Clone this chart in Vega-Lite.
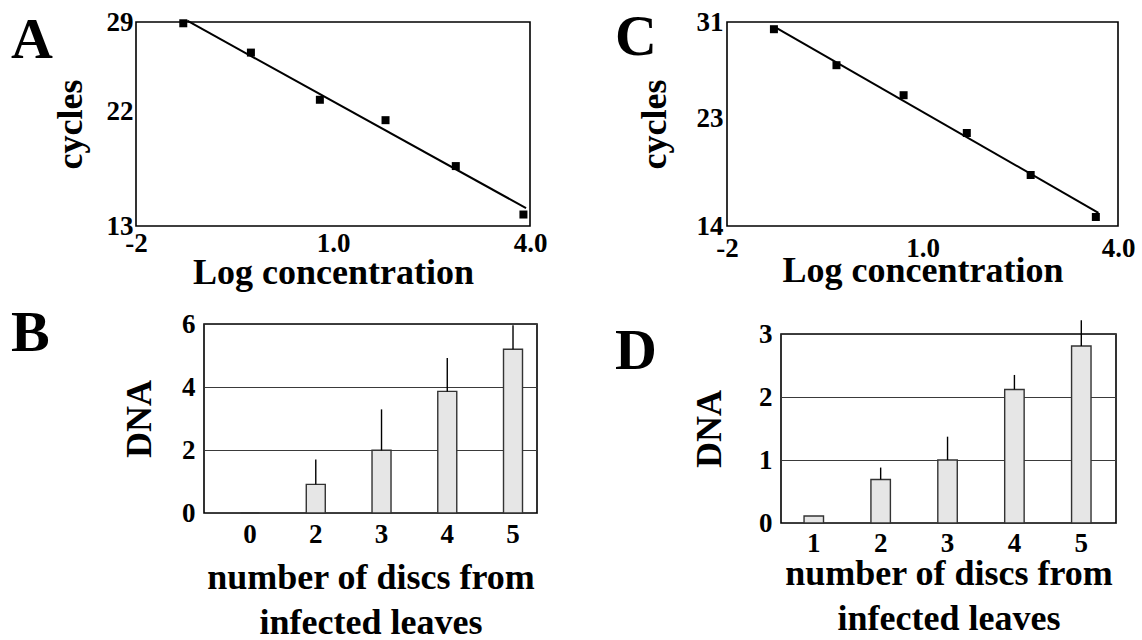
{
  "$schema": "https://vega.github.io/schema/vega-lite/v6.json",
  "background": "white",
  "padding": {"left": 9, "top": 7, "right": 0, "bottom": 0},
  "config": {
    "font": "Liberation Serif",
    "view": {"stroke": "black", "strokeWidth": 1.6},
    "axis": {
      "domain": false, "ticks": false, "tickSize": 0, "grid": false,
      "labelFont": "Liberation Serif", "labelFontWeight": "bold", "labelColor": "black",
      "labelFlush": false, "labelOverlap": false, "labelFontSize": 27,
      "titleFont": "Liberation Serif", "titleFontWeight": "bold", "titleColor": "black", "titleFontSize": 36
    },
    "title": {"font": "Liberation Serif", "fontWeight": "bold", "fontSize": 58, "color": "black", "anchor": "start", "frame": "group", "offset": 0, "baseline": "alphabetic"}
  },
  "datasets": {
    "empty": [],
    "A_pts": [
      {"logc": -1.28, "cycles": 28.9}, {"logc": -0.25, "cycles": 26.6}, {"logc": 0.80, "cycles": 22.9},
      {"logc": 1.80, "cycles": 21.3}, {"logc": 2.87, "cycles": 17.7}, {"logc": 3.90, "cycles": 13.9}
    ],
    "A_line": [{"logc": -1.22, "cycles": 29.1}, {"logc": 3.94, "cycles": 14.4}],
    "C_pts": [
      {"logc": -1.28, "cycles": 30.4}, {"logc": -0.32, "cycles": 27.4}, {"logc": 0.71, "cycles": 24.9},
      {"logc": 1.68, "cycles": 21.75}, {"logc": 2.66, "cycles": 18.25}, {"logc": 3.66, "cycles": 14.75}
    ],
    "C_line": [{"logc": -1.27, "cycles": 30.6}, {"logc": 3.70, "cycles": 15.1}],
    "B_bars": [
      {"discs": "0", "dna": 0, "err": 0}, {"discs": "2", "dna": 0.91, "err": 1.70},
      {"discs": "3", "dna": 1.99, "err": 3.29}, {"discs": "4", "dna": 3.86, "err": 4.92},
      {"discs": "5", "dna": 5.20, "err": 5.96}
    ],
    "D_bars": [
      {"discs": "1", "dna": 0.11, "err": 0.11}, {"discs": "2", "dna": 0.69, "err": 0.88},
      {"discs": "3", "dna": 1.00, "err": 1.37}, {"discs": "4", "dna": 2.12, "err": 2.35},
      {"discs": "5", "dna": 2.81, "err": 3.22}
    ]
  },
  "spacing": 13,
  "vconcat": [
    {
      "spacing": 0,
      "hconcat": [
        {"width": 1, "height": 1, "view": {"stroke": null}, "data": {"name": "empty"}, "mark": {"type": "point", "opacity": 0}, "encoding": {}},
        {
          "spacing": 66,
          "hconcat": [
            {
              "width": 394, "height": 204,
              "title": {"text": "A", "dx": -125, "dy": 66},
              "layer": [
                {
                  "data": {"name": "A_line"},
                  "mark": {"type": "line", "color": "black", "strokeWidth": 2},
                  "encoding": {
                    "x": {"field": "logc", "type": "quantitative", "scale": {"domain": [-2, 4], "nice": false, "zero": false},
                          "axis": {"values": [-2, 1, 4], "labelExpr": "datum.value == -2 ? '-2' : format(datum.value, '.1f')", "title": "Log concentration", "labelPadding": 4, "titlePadding": -1}},
                    "y": {"field": "cycles", "type": "quantitative", "scale": {"domain": [13, 29], "nice": false, "zero": false},
                          "axis": {"values": [13, 22, 29], "title": "cycles", "labelPadding": 3, "titlePadding": 17}}
                  }
                },
                {
                  "data": {"name": "A_pts"},
                  "mark": {"type": "square", "size": 64, "color": "black", "filled": true, "opacity": 1},
                  "encoding": {
                    "x": {"field": "logc", "type": "quantitative"},
                    "y": {"field": "cycles", "type": "quantitative"}
                  }
                }
              ]
            },
            {
              "width": 391, "height": 204,
              "title": {"text": "C", "dx": -112, "dy": 63},
              "layer": [
                {
                  "data": {"name": "C_line"},
                  "mark": {"type": "line", "color": "black", "strokeWidth": 2},
                  "encoding": {
                    "x": {"field": "logc", "type": "quantitative", "scale": {"domain": [-2, 4], "nice": false, "zero": false},
                          "axis": {"values": [-2, 1, 4], "labelExpr": "datum.value == -2 ? '-2' : format(datum.value, '.1f')", "title": "Log concentration", "labelPadding": 9, "titlePadding": -8}},
                    "y": {"field": "cycles", "type": "quantitative", "scale": {"domain": [14, 31], "nice": false, "zero": false},
                          "axis": {"values": [14, 23, 31], "title": "cycles", "labelPadding": 4, "titlePadding": 23}}
                  }
                },
                {
                  "data": {"name": "C_pts"},
                  "mark": {"type": "square", "size": 64, "color": "black", "filled": true, "opacity": 1},
                  "encoding": {
                    "x": {"field": "logc", "type": "quantitative"},
                    "y": {"field": "cycles", "type": "quantitative"}
                  }
                }
              ]
            }
          ]
        }
      ]
    },
    {
      "spacing": 0,
      "hconcat": [
        {"width": 1, "height": 1, "view": {"stroke": null}, "data": {"name": "empty"}, "mark": {"type": "point", "opacity": 0}, "encoding": {}},
        {
          "spacing": 76,
          "hconcat": [
            {
              "width": 333, "height": 189,
              "title": {"text": "B", "dx": -193, "dy": 57},
              "data": {"name": "B_bars"},
              "encoding": {
                "x": {"field": "discs", "type": "nominal", "sort": null,
                      "scale": {"paddingInner": 0.711, "paddingOuter": 0.388, "align": 0.716},
                      "axis": {"labelAngle": 0, "labelPadding": 8, "title": ["number of discs from", "infected leaves"], "titlePadding": 13, "titleLineHeight": 45}}
              },
              "layer": [
                {
                  "mark": {"type": "bar", "fill": "#e6e6e6", "stroke": "#333333", "strokeWidth": 1.4},
                  "encoding": {
                    "y": {"field": "dna", "type": "quantitative", "scale": {"domain": [0, 6], "nice": false},
                          "axis": {"values": [0, 2, 4, 6], "grid": true, "gridColor": "#3a3a3a", "gridWidth": 1.2, "labelPadding": 9, "title": "DNA", "titlePadding": 23}}
                  }
                },
                {
                  "mark": {"type": "rule", "color": "black", "strokeWidth": 1.4},
                  "encoding": {
                    "y": {"field": "dna", "type": "quantitative"},
                    "y2": {"field": "err"}
                  }
                }
              ]
            },
            {
              "spacing": -7,
              "vconcat": [
                {"width": 1, "height": 1, "view": {"stroke": null}, "data": {"name": "empty"}, "mark": {"type": "point", "opacity": 0}, "encoding": {}},
                {
                  "width": 335, "height": 189,
                  "title": {"text": "D", "dx": -166, "dy": 66},
                  "data": {"name": "D_bars"},
                  "encoding": {
                    "x": {"field": "discs", "type": "nominal", "sort": null,
                          "scale": {"paddingInner": 0.709, "paddingOuter": 0.359, "align": 0.48},
                          "axis": {"labelAngle": 0, "labelPadding": 7, "title": ["number of discs from", "infected leaves"], "titlePadding": 0, "titleLineHeight": 45}}
                  },
                  "layer": [
                    {
                      "mark": {"type": "bar", "fill": "#e6e6e6", "stroke": "#333333", "strokeWidth": 1.4},
                      "encoding": {
                        "y": {"field": "dna", "type": "quantitative", "scale": {"domain": [0, 3], "nice": false},
                              "axis": {"values": [0, 1, 2, 3], "format": "d", "grid": true, "gridColor": "#3a3a3a", "gridWidth": 1.2, "labelPadding": 9, "title": "DNA", "titlePadding": 30}}
                      }
                    },
                    {
                      "mark": {"type": "rule", "color": "black", "strokeWidth": 1.4},
                      "encoding": {
                        "y": {"field": "dna", "type": "quantitative"},
                        "y2": {"field": "err"}
                      }
                    }
                  ]
                }
              ]
            }
          ]
        }
      ]
    }
  ]
}
